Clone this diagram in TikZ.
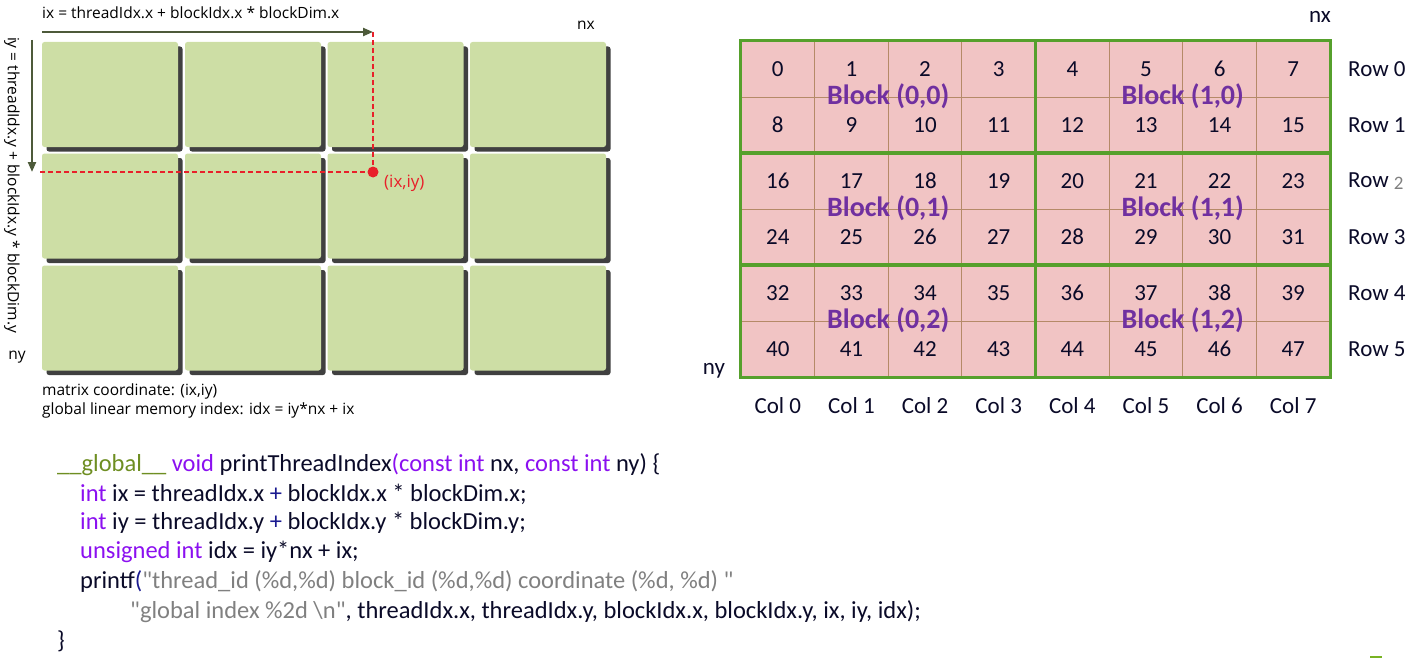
\documentclass[tikz,border=0pt]{standalone}
\usepackage{fontspec}
\setmainfont{Carlito}
\newfontfamily\osans{Open Sans}
\newfontfamily\codefont{Carlito}[Ligatures=TeXOff]
\usetikzlibrary{arrows.meta,shadows}
\definecolor{blockgreen}{HTML}{CDDEA5}
\definecolor{shadowgray}{HTML}{404040}
\definecolor{arrowol}{HTML}{4D5A3A}
\definecolor{dotred}{HTML}{E8202A}
\definecolor{cellpink}{HTML}{F1C4C4}
\definecolor{cellline}{HTML}{B58A68}
\definecolor{gridgreen}{HTML}{56A02C}
\definecolor{blkpurple}{HTML}{7030A0}
\definecolor{kw}{HTML}{8B10F0}
\definecolor{glob}{HTML}{6E8E22}
\definecolor{strgray}{HTML}{808080}
\definecolor{codeblack}{HTML}{0A0A28}
\definecolor{navy}{HTML}{1A1A90}
\newcommand{\codesetup}{\codefont\fontsize{24.5}{28}\selectfont}
\tikzset{
  blk/.style={fill=blockgreen,rounded corners=2.5pt,minimum width=136pt,minimum height=105pt,inner sep=0pt,
    drop shadow={shadow xshift=4.5pt,shadow yshift=-4.5pt,fill=shadowgray,opacity=1}},
  lbl/.style={font=\osans\fontsize{15.5}{18}\selectfont,inner sep=0pt},
  idxarrow/.style={draw=arrowol,line width=2.2pt,-{Triangle[length=10pt,width=8pt]}},
  reddash/.style={draw=dotred,line width=1.2pt,dash pattern=on 5pt off 3pt},
  cell/.style={draw=cellline,line width=0.9pt,fill=cellpink,minimum width=73.625pt,minimum height=56pt,inner sep=0pt,
    font=\fontsize{23}{26}\selectfont,text=codeblack},
  gblock/.style={draw=gridgreen,line width=3pt},
  blabel/.style={font=\bfseries\fontsize{28}{30}\selectfont,text=blkpurple,inner sep=0pt},
  glabel/.style={font=\fontsize{23}{26}\selectfont,text=codeblack,inner sep=0pt},
  codeline/.style={anchor=west,inner sep=0pt,font=\codesetup,text=codeblack}
}
\begin{document}
\begin{tikzpicture}[x=1pt,y=-1pt]
\useasboundingbox (0,0) rectangle (1420,658);
% ---------- left diagram ----------
\foreach \r/\yc in {1/94.5,2/206,3/318}{
  \foreach \c/\xc in {1/110,2/253,3/395.5,4/538}{
    \node[blk] (b\r\c) at (\xc,\yc) {};
  }
}
\node[lbl,anchor=west] (ixlab) at (42,13) {ix = threadIdx.x + blockIdx.x * blockDim.x};
\node[lbl,rotate=-90] (iylab) at (12,185) {iy = threadIdx.y + blockIdx.y * blockDim.y};
\node[lbl] (nxl) at (586,25) {nx};
\node[lbl] (nyl) at (17,357) {ny};
\coordinate (hs) at (42,32);
\coordinate (vs) at (32,40);
\coordinate (ve) at (32,172);
\coordinate (hd) at (40,172);
\node[circle,fill=dotred,minimum size=11pt,inner sep=0pt] (dot) at (373,172) {};
\coordinate (top) at (373,32);
\draw[reddash] (top) -- (dot.center);
\draw[reddash] (hd) -- (dot.center);
\draw[idxarrow] (hs) -- (top);
\draw[idxarrow] (vs) -- (ve);
\node[lbl,text=dotred,anchor=west,font=\osans\fontsize{17}{19}\selectfont] (ixiy) at (384,183) {(ix,iy)};
\node[lbl,anchor=west] (mc) at (42,391) {matrix coordinate: (ix,iy)};
\node[lbl,anchor=west] (gl) at (42,410) {global linear memory index: idx = iy*nx + ix};
% ---------- right grid ----------
\foreach \r in {0,...,5}{
  \foreach \c in {0,...,7}{
    \pgfmathtruncatemacro{\n}{\r*8+\c}
    \node[cell] (c\r\c) at ({741+73.625*(\c+0.5)},{41+56*(\r+0.5)}) {\n};
  }
}
\foreach \br in {0,1,2}{
  \foreach \bc in {0,1}{
    \pgfmathtruncatemacro{\ra}{2*\br}
    \pgfmathtruncatemacro{\rb}{2*\br+1}
    \pgfmathtruncatemacro{\ca}{4*\bc}
    \pgfmathtruncatemacro{\cb}{4*\bc+3}
    \draw[gblock] (c\ra\ca.north west) rectangle (c\rb\cb.south east);
  }
}
\foreach \br in {0,1,2}{
  \foreach \bc in {0,1}{
    \node[blabel] (B\bc\br) at ({741+73.625*(4*\bc+2)},{41+56*(2*\br+1)-1}) {Block (\bc,\br)};
  }
}
\foreach \r in {0,1,3,4,5}{
  \node[glabel,anchor=west] (row\r) at (1348,{69+56*\r}) {Row \r};
}
\node[glabel,anchor=west] (row2) at (1348,181) {Row {\color{strgray}\fontsize{19}{20}\selectfont\raisebox{-2pt}{2}}};
\foreach \c in {0,...,7}{
  \node[glabel] (col\c) at ({741+73.625*(\c+0.5)},406) {Col \c};
}
\node[glabel] (nxr) at (1320,17) {nx};
\node[glabel] (nyr) at (714,371) {ny};
% ---------- code ----------
\node[codeline] (l1) at (57,465) {{\color{glob}\_\_global\_\_} {\color{kw}void} printThreadIndex{\color{kw}(const int} nx, {\color{kw}const int} ny) \{};
\node[codeline] (l2) at (80,494) {{\color{kw}int} ix = threadIdx.x {\color{navy}+} blockIdx.x * blockDim.x;};
\node[codeline] (l3) at (80,523) {{\color{kw}int} iy = threadIdx.y {\color{navy}+} blockIdx.y * blockDim.y;};
\node[codeline] (l4) at (80,552) {{\color{kw}unsigned int} idx = iy*nx + ix;};
\node[codeline] (l5) at (80,582) {printf{\color{navy}(}{\color{strgray}"thread\_id (\%d,\%d) block\_id (\%d,\%d) coordinate (\%d, \%d) "}};
\node[codeline] (l6) at (130,612) {{\color{strgray}"global index \%2d \textbackslash n"}, threadIdx.x, threadIdx.y, blockIdx.x, blockIdx.y, ix, iy, idx);};
\node[codeline] (l7) at (57,641) {\}};
% small mark
\fill[gridgreen!80!yellow] (1370,655.5) rectangle (1382,658);
\end{tikzpicture}
\end{document}
